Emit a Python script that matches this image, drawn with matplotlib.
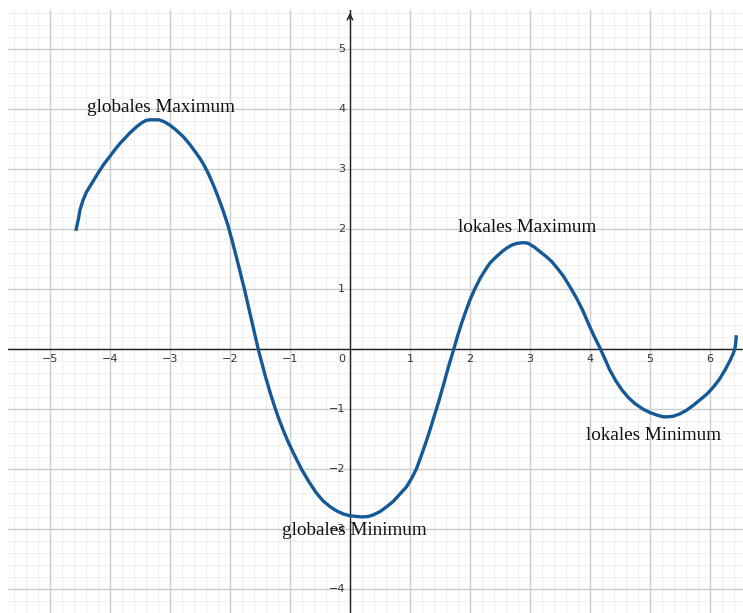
import matplotlib
matplotlib.use("Agg")
import matplotlib.pyplot as plt
import numpy as np

# curve samples (x, y)
curve_x = [-4.57, -4.53, -4.50, -4.45, -4.39, -4.28, -4.20, -4.11, -4.01, -3.92,
           -3.83, -3.67, -3.55, -3.47, -3.40, -3.33, -3.19, -3.10, -3.00, -2.90,
           -2.78, -2.67, -2.56, -2.49, -2.42, -2.35, -2.28, -2.20, -2.12, -2.04,
           -1.96, -1.88, -1.76, -1.65, -1.53, -1.42, -1.33, -1.25, -1.18, -1.11,
           -1.03, -0.94, -0.81, -0.68,
           -0.56, -0.45, -0.33, -0.22, -0.11, 0.00, 0.11, 0.20, 0.31, 0.40,
           0.50, 0.61, 0.72, 0.83, 0.94, 1.03, 1.11, 1.18, 1.25, 1.32,
           1.40, 1.48, 1.56, 1.64, 1.73, 1.80, 1.86, 1.93, 2.00, 2.08,
           2.17, 2.25, 2.33, 2.43, 2.53, 2.61, 2.69, 2.78, 2.86, 2.93,
           2.97, 3.07, 3.17, 3.27, 3.36, 3.46, 3.56, 3.67, 3.78, 3.88,
           3.97, 4.07, 4.17, 4.25, 4.33, 4.43, 4.53, 4.64, 4.75, 4.88,
           5.00, 5.11, 5.22, 5.30, 5.39, 5.50, 5.61, 5.72, 5.83, 5.95,
           6.06, 6.16, 6.25, 6.33, 6.39, 6.42, 6.43, 6.44]
curve_y = [1.97, 2.15, 2.32, 2.48, 2.62, 2.80, 2.93, 3.07, 3.20, 3.32,
           3.43, 3.60, 3.71, 3.77, 3.81, 3.82, 3.82, 3.79, 3.73, 3.65,
           3.54, 3.41, 3.26, 3.16, 3.04, 2.90, 2.74, 2.54, 2.32, 2.08,
           1.79, 1.48, 1.00, 0.52, 0.00, -0.42, -0.73, -0.98, -1.18, -1.36,
           -1.55, -1.74, -2.00, -2.22,
           -2.40, -2.53, -2.63, -2.70, -2.75, -2.78, -2.79, -2.80, -2.79, -2.76,
           -2.71, -2.63, -2.54, -2.42, -2.30, -2.15, -1.99, -1.80, -1.60, -1.39,
           -1.13, -0.87, -0.59, -0.30, 0.00, 0.24, 0.43, 0.63, 0.82, 1.00,
           1.18, 1.31, 1.43, 1.53, 1.62, 1.68, 1.73, 1.76, 1.77, 1.77,
           1.76, 1.70, 1.62, 1.54, 1.46, 1.34, 1.21, 1.03, 0.84, 0.64,
           0.43, 0.21, 0.01, -0.17, -0.35, -0.53, -0.68, -0.81, -0.91, -1.00,
           -1.06, -1.10, -1.13, -1.13, -1.12, -1.08, -1.02, -0.94, -0.85, -0.75,
           -0.63, -0.50, -0.35, -0.20, -0.07, 0.03, 0.12, 0.23]

labels = ["globales Maximum", "lokales Maximum", "lokales Minimum", "globales Minimum"]
label_x = [-3.15, 2.95, 5.05, 0.07]
label_y = [4.03, 2.02, -1.45, -3.02]

x_ticks = [-5, -4, -3, -2, -1, 1, 2, 3, 4, 5, 6]
y_ticks = [-4, -3, -2, -1, 1, 2, 3, 4, 5]

fig = plt.figure(figsize=(7.43, 6.13), dpi=100)
ax = fig.add_axes([8 / 743, 0, 735 / 743, 603 / 613])
ax.set_xlim(-5.7, 6.55)
ax.set_ylim(-4.4, 5.65)
for s in ax.spines.values():
    s.set_visible(False)
ax.set_xticks([])
ax.set_yticks([])

# grid: minor every 0.2, major every 1
for v in np.arange(-5.6, 6.6, 0.2):
    ax.axvline(v, color="#efefef", lw=0.8, zorder=0)
for v in np.arange(-4.4, 5.7, 0.2):
    ax.axhline(v, color="#efefef", lw=0.8, zorder=0)
for v in range(-5, 7):
    ax.axvline(v, color="#cccccc", lw=1.0, zorder=1)
for v in range(-4, 6):
    ax.axhline(v, color="#cccccc", lw=1.0, zorder=1)

# axes
ax.axhline(0, color="#222222", lw=1.0, zorder=2)
ax.axvline(0, color="#222222", lw=1.0, zorder=2)
ax.annotate("", xy=(0, 5.65), xytext=(0, 5.45),
            arrowprops=dict(arrowstyle="->", color="#222222", lw=1.0))

for t in x_ticks:
    ax.text(t, -0.09, "\u2212%d" % -t if t < 0 else str(t), ha="center", va="top",
            fontsize=8, color="#333333", zorder=3)
for t in y_ticks:
    ax.text(-0.08, t, "\u2212%d" % -t if t < 0 else str(t), ha="right", va="center",
            fontsize=8, color="#333333", zorder=3)
ax.text(-0.08, -0.09, "0", ha="right", va="top", fontsize=8, color="#333333", zorder=3)

ax.plot(curve_x, curve_y, color="#155a96", lw=2.4, solid_joinstyle="round",
        solid_capstyle="butt", zorder=4)

for txt, lx, ly in zip(labels, label_x, label_y):
    ax.text(lx, ly, txt, ha="center", va="center", fontsize=13.8,
            family="Liberation Serif", color="#111111", zorder=5)

fig.savefig("out.png", dpi=100)
